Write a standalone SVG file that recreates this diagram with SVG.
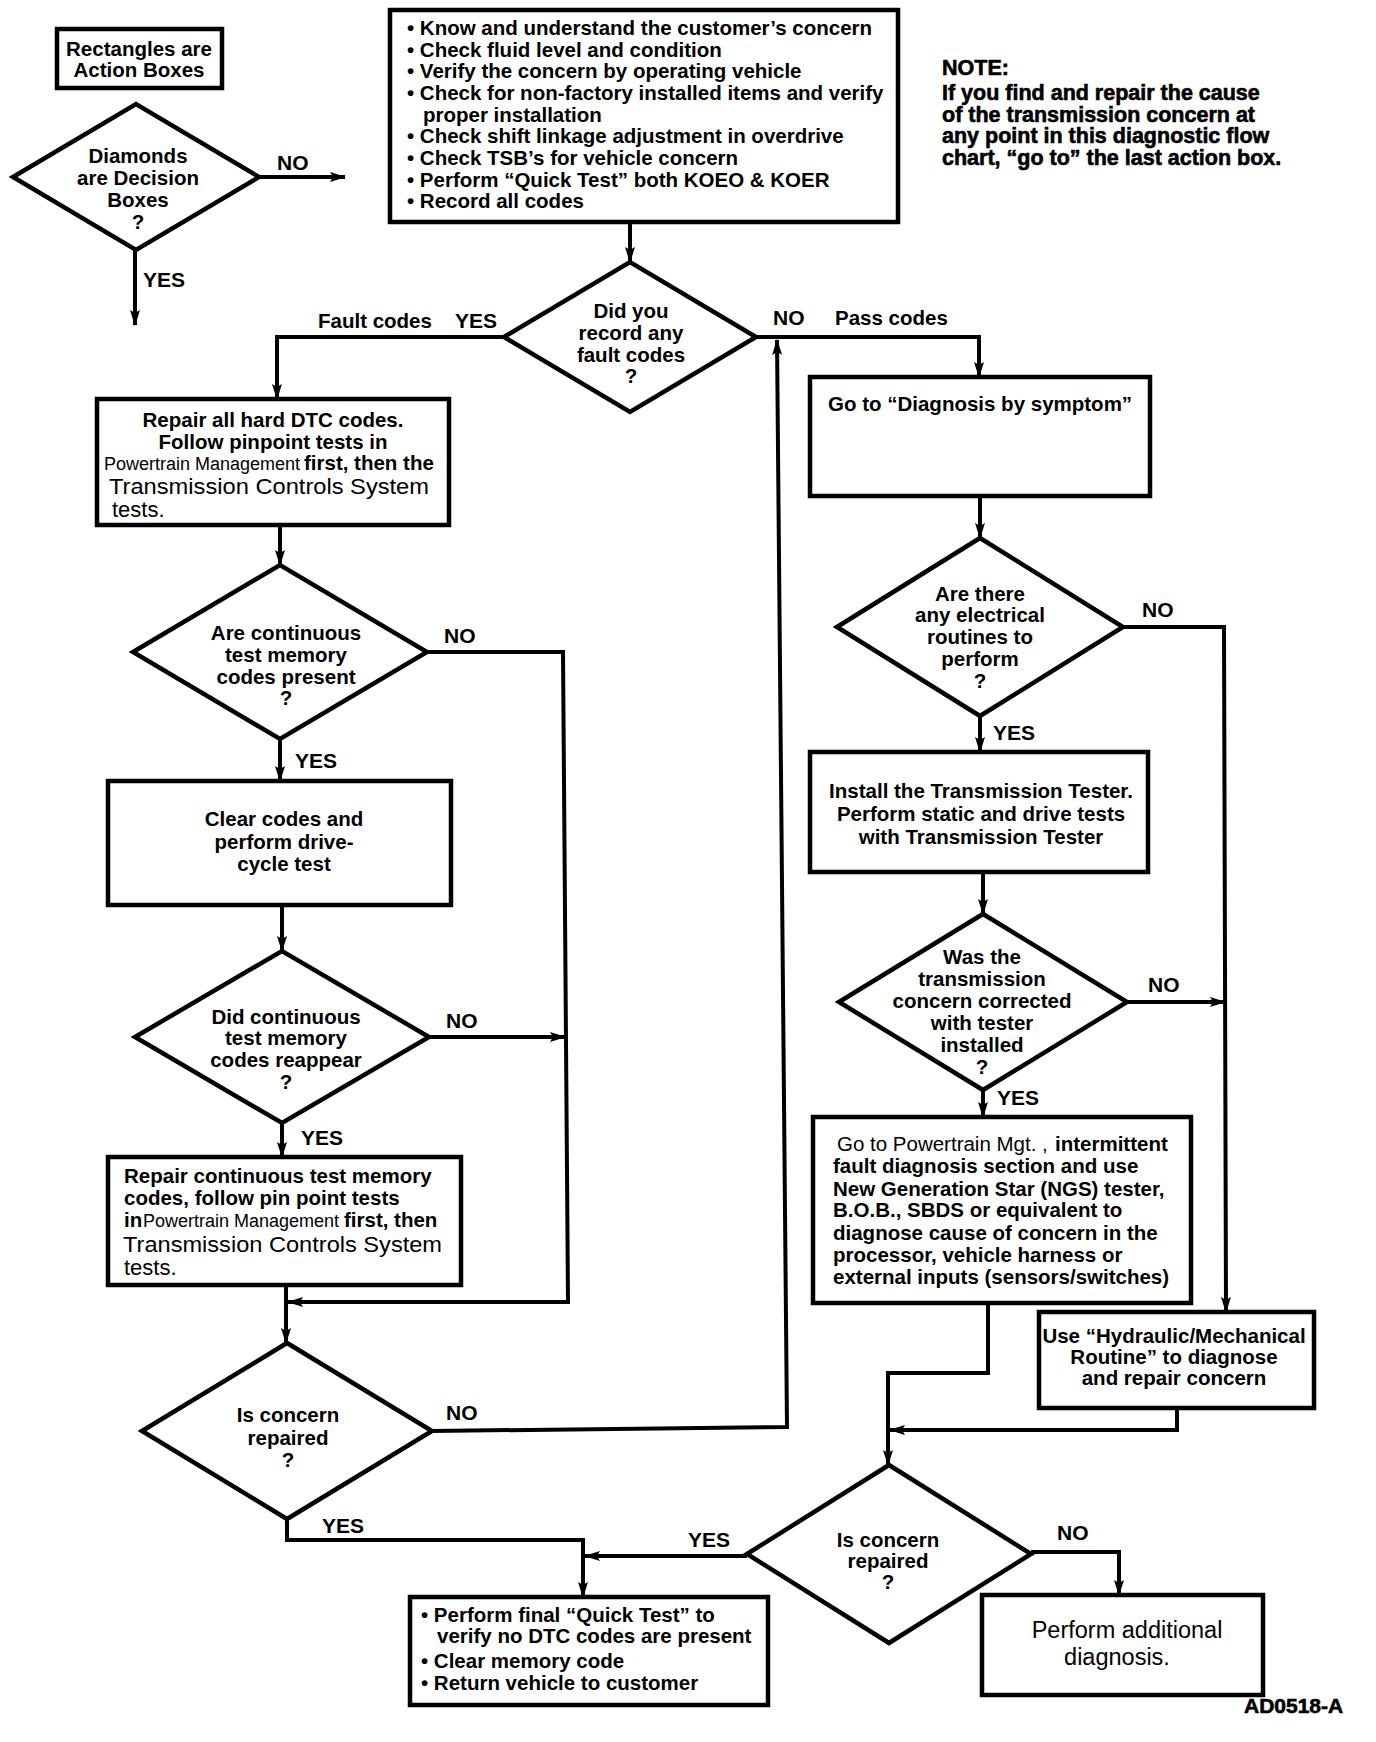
<svg xmlns="http://www.w3.org/2000/svg" width="1376" height="1742" viewBox="0 0 1376 1742">
<style>
text{font-family:"Liberation Sans",Arial,sans-serif;fill:#000}
.b{font-size:20.5px;font-weight:bold}
.r{font-size:20.5px;font-weight:normal}
.rs{font-size:18px;font-weight:normal}
.rl{font-size:22px;font-weight:normal}
.ra{font-size:23.5px;font-weight:normal}
.lbl{font-size:21px;font-weight:bold}
.hv{font-size:21.5px;font-weight:bold;stroke:#000;stroke-width:0.6}
.c{text-anchor:middle}
.box{fill:#fff;stroke:#000;stroke-width:4.5}
.dia{fill:#fff;stroke:#000;stroke-width:4.5;stroke-linejoin:miter}
.con path{fill:none;stroke:#000;stroke-width:4;marker-end:url(#ah)}
</style>
<defs>
<marker id="ah" markerWidth="16" markerHeight="10" refX="15" refY="5" orient="auto" markerUnits="userSpaceOnUse">
<path d="M0,0 L16,5 L0,10 L3,5 z" fill="#000"/>
</marker>
</defs>
<rect width="1376" height="1742" fill="#fff"/>

<g id="connectors" class="con">
<path d="M260,177 H345"/>
<path d="M135,250 V325"/>
<path d="M630,222 V262"/>
<path d="M504,337 H277 V399"/>
<path d="M280,525 V565"/>
<path d="M280,739 V781"/>
<path d="M282,905 V951"/>
<path d="M282,1123 V1157"/>
<path d="M286,1285 V1343"/>
<path d="M427,652 H563 L568,1302 H288"/>
<path d="M429,1037 H565"/>
<path d="M432,1431 L787,1427 L777,340"/>
<path d="M287,1519 V1540 H583 V1597"/>
<path d="M756,337 H979 V377"/>
<path d="M980,496 V538"/>
<path d="M980,716 V752"/>
<path d="M983,872 V914"/>
<path d="M983,1090 V1117"/>
<path d="M1123,627 H1224 L1226,1312"/>
<path d="M1127,1002 H1225"/>
<path d="M988,1303 V1373 H888 V1465"/>
<path d="M1177,1408 V1430 H890"/>
<path d="M747,1556 H585"/>
<path d="M1031,1552 H1119 V1595"/>
</g>

<g id="labels">
<text class="lbl" x="277" y="170">NO</text>
<text class="lbl" x="143" y="287">YES</text>
<text class="b" x="318" y="328">Fault codes</text>
<text class="lbl" x="455" y="328">YES</text>
<text class="lbl" x="773" y="325">NO</text>
<text class="b" x="835" y="325">Pass codes</text>
<text class="lbl" x="444" y="643">NO</text>
<text class="lbl" x="295" y="768">YES</text>
<text class="lbl" x="446" y="1028">NO</text>
<text class="lbl" x="301" y="1145">YES</text>
<text class="lbl" x="446" y="1420">NO</text>
<text class="lbl" x="322" y="1533">YES</text>
<text class="lbl" x="1142" y="617">NO</text>
<text class="lbl" x="993" y="740">YES</text>
<text class="lbl" x="1148" y="992">NO</text>
<text class="lbl" x="997" y="1105">YES</text>
<text class="lbl" x="688" y="1547">YES</text>
<text class="lbl" x="1057" y="1540">NO</text>
</g>

<g id="legend-rect">
<rect class="box" x="57" y="29" width="165" height="59"/>
<text class="b c" x="139" y="56">Rectangles are</text>
<text class="b c" x="139" y="77">Action Boxes</text>
</g>

<g id="legend-diamond">
<polygon class="dia" points="13,177 136,104 259,177 136,250"/>
<text class="b c" x="138" y="163">Diamonds</text>
<text class="b c" x="138" y="185">are Decision</text>
<text class="b c" x="138" y="207">Boxes</text>
<text class="b c" x="138" y="229">?</text>
</g>

<g id="start-box">
<rect class="box" x="390" y="10" width="508" height="212"/>
<text class="b" x="407" y="35">• Know and understand the customer’s concern</text>
<text class="b" x="407" y="57">• Check fluid level and condition</text>
<text class="b" x="407" y="78">• Verify the concern by operating vehicle</text>
<text class="b" x="407" y="100">• Check for non-factory installed items and verify</text>
<text class="b" x="423" y="122">proper installation</text>
<text class="b" x="407" y="143">• Check shift linkage adjustment in overdrive</text>
<text class="b" x="407" y="165">• Check TSB’s for vehicle concern</text>
<text class="b" x="407" y="187">• Perform “Quick Test” both KOEO &amp; KOER</text>
<text class="b" x="407" y="208">• Record all codes</text>
</g>

<g id="note">
<text class="hv" x="942" y="75">NOTE:</text>
<text class="hv" x="942" y="100">If you find and repair the cause</text>
<text class="hv" x="942" y="122">of the transmission concern at</text>
<text class="hv" x="942" y="143">any point in this diagnostic flow</text>
<text class="hv" x="942" y="165">chart, “go to” the last action box.</text>
</g>

<g id="d-fault-codes">
<polygon class="dia" points="504,337 630,262 756,337 630,412"/>
<text class="b c" x="631" y="318">Did you</text>
<text class="b c" x="631" y="340">record any</text>
<text class="b c" x="631" y="362">fault codes</text>
<text class="b c" x="631" y="383">?</text>
</g>

<g id="repair-hard">
<rect class="box" x="97" y="399" width="352" height="126"/>
<text class="b c" x="273" y="427">Repair all hard DTC codes.</text>
<text class="b c" x="273" y="449">Follow pinpoint tests in</text>
<text class="rs" x="104" y="470">Powertrain Management</text>
<text class="b" x="304" y="470">first, then the</text>
<text class="rl" x="109" y="494" textLength="320" lengthAdjust="spacingAndGlyphs">Transmission Controls System</text>
<text class="rl" x="112" y="517">tests.</text>
</g>

<g id="d-continuous">
<polygon class="dia" points="133,652 280,565 427,652 280,739"/>
<text class="b c" x="286" y="640">Are continuous</text>
<text class="b c" x="286" y="662">test memory</text>
<text class="b c" x="286" y="684">codes present</text>
<text class="b c" x="286" y="705">?</text>
</g>

<g id="clear-codes">
<rect class="box" x="108" y="781" width="343" height="124"/>
<text class="b c" x="284" y="826">Clear codes and</text>
<text class="b c" x="284" y="849">perform drive-</text>
<text class="b c" x="284" y="871">cycle test</text>
</g>

<g id="d-reappear">
<polygon class="dia" points="135,1037 282,951 429,1037 282,1123"/>
<text class="b c" x="286" y="1024">Did continuous</text>
<text class="b c" x="286" y="1045">test memory</text>
<text class="b c" x="286" y="1067">codes reappear</text>
<text class="b c" x="286" y="1089">?</text>
</g>

<g id="repair-continuous">
<rect class="box" x="108" y="1157" width="353" height="128"/>
<text class="b" x="124" y="1183">Repair continuous test memory</text>
<text class="b" x="124" y="1205">codes, follow pin point tests</text>
<text class="b" x="124" y="1227">in</text>
<text class="rs" x="143" y="1227">Powertrain Management</text>
<text class="b" x="344" y="1227">first, then</text>
<text class="rl" x="123" y="1252" textLength="319" lengthAdjust="spacingAndGlyphs">Transmission Controls System</text>
<text class="rl" x="124" y="1275">tests.</text>
</g>

<g id="d-repaired-left">
<polygon class="dia" points="142,1431 287,1343 432,1431 287,1519"/>
<text class="b c" x="288" y="1422">Is concern</text>
<text class="b c" x="288" y="1445">repaired</text>
<text class="b c" x="288" y="1467">?</text>
</g>

<g id="diagnosis-symptom">
<rect class="box" x="810" y="377" width="340" height="119"/>
<text class="b" x="828" y="411">Go to “Diagnosis by symptom”</text>
</g>

<g id="d-electrical">
<polygon class="dia" points="837,627 980,538 1123,627 980,716"/>
<text class="b c" x="980" y="601">Are there</text>
<text class="b c" x="980" y="622">any electrical</text>
<text class="b c" x="980" y="644">routines to</text>
<text class="b c" x="980" y="666">perform</text>
<text class="b c" x="980" y="688">?</text>
</g>

<g id="install-tester">
<rect class="box" x="810" y="752" width="338" height="120"/>
<text class="b c" x="981" y="798">Install the Transmission Tester.</text>
<text class="b c" x="981" y="821">Perform static and drive tests</text>
<text class="b c" x="981" y="844">with Transmission Tester</text>
</g>

<g id="d-corrected">
<polygon class="dia" points="839,1002 983,914 1127,1002 983,1090"/>
<text class="b c" x="982" y="964">Was the</text>
<text class="b c" x="982" y="986">transmission</text>
<text class="b c" x="982" y="1008">concern corrected</text>
<text class="b c" x="982" y="1030">with tester</text>
<text class="b c" x="982" y="1052">installed</text>
<text class="b c" x="982" y="1074">?</text>
</g>

<g id="powertrain-mgt">
<rect class="box" x="813" y="1117" width="378" height="186"/>
<text class="r" x="837" y="1151">Go to Powertrain Mgt. ,</text>
<text class="b" x="1055" y="1151">intermittent</text>
<text class="b" x="833" y="1173">fault diagnosis section and use</text>
<text class="b" x="833" y="1196">New Generation Star (NGS) tester,</text>
<text class="b" x="833" y="1217">B.O.B., SBDS or equivalent to</text>
<text class="b" x="833" y="1240">diagnose cause of concern in the</text>
<text class="b" x="833" y="1262">processor, vehicle harness or</text>
<text class="b" x="833" y="1284">external inputs (sensors/switches)</text>
</g>

<g id="hydraulic">
<rect class="box" x="1039" y="1312" width="275" height="96"/>
<text class="b c" x="1174" y="1343">Use “Hydraulic/Mechanical</text>
<text class="b c" x="1174" y="1364">Routine” to diagnose</text>
<text class="b c" x="1174" y="1385">and repair concern</text>
</g>

<g id="d-repaired-right">
<polygon class="dia" points="747,1554 889,1465 1031,1554 889,1643"/>
<text class="b c" x="888" y="1547">Is concern</text>
<text class="b c" x="888" y="1568">repaired</text>
<text class="b c" x="888" y="1589">?</text>
</g>

<g id="final-box">
<rect class="box" x="410" y="1597" width="358" height="108"/>
<text class="b" x="421" y="1622">• Perform final “Quick Test” to</text>
<text class="b" x="437" y="1643">verify no DTC codes are present</text>
<text class="b" x="421" y="1668">• Clear memory code</text>
<text class="b" x="421" y="1690">• Return vehicle to customer</text>
</g>

<g id="additional">
<rect class="box" x="982" y="1595" width="281" height="100"/>
<text class="ra c" x="1127" y="1638">Perform additional</text>
<text class="ra c" x="1117" y="1665">diagnosis.</text>
</g>

<text class="hv" x="1244" y="1713" style="font-size:21px">AD0518-A</text>
</svg>
